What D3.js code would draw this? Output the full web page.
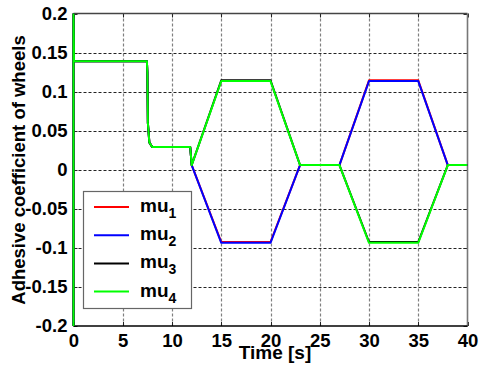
<!DOCTYPE html>
<html>
<head>
<meta charset="utf-8">
<script src="https://cdn.jsdelivr.net/npm/d3@7"></script>
<style>
  html, body { margin: 0; padding: 0; background: #fff; }
  svg { display: block; }
  text { font-family: "Liberation Sans", Arial, sans-serif; font-weight: bold; fill: #000; }
</style>
</head>
<body>
<svg id="chart" width="481" height="370"></svg>
<script>
// Simulation time samples (s)
const time = [0, 0, 0.05, 7.45, 7.5, 7.55, 7.7, 8.0, 11.85, 12.0, 15.0, 20.0, 23.0, 27.0, 30.0, 35.0, 38.0, 40.0];

// Adhesion coefficient of each wheel
const mu1 = [-0.2, 0.2, 0.139, 0.139, 0.125, 0.06, 0.035, 0.029, 0.029, 0.006, -0.0925, -0.0925, 0.006, 0.006, 0.1145, 0.1145, 0.006, 0.006];
const mu2 = [-0.2, 0.2, 0.139, 0.139, 0.125, 0.06, 0.035, 0.029, 0.029, 0.006, -0.0935, -0.0935, 0.006, 0.006, 0.1135, 0.1135, 0.006, 0.006];
const mu3 = [-0.2, 0.2, 0.139, 0.139, 0.125, 0.06, 0.035, 0.029, 0.029, 0.006, 0.1145, 0.1145, 0.006, 0.006, -0.0925, -0.0925, 0.006, 0.006];
const mu4 = [-0.2, 0.2, 0.139, 0.139, 0.125, 0.06, 0.035, 0.029, 0.029, 0.006, 0.1135, 0.1135, 0.006, 0.006, -0.0935, -0.0935, 0.006, 0.006];

const seriesNames = ["mu1", "mu2", "mu3", "mu4"];
const seriesColors = ["#ff0000", "#0000ff", "#000000", "#00ff00"];

const xTicks = [0, 5, 10, 15, 20, 25, 30, 35, 40];
const yTicks = [-0.2, -0.15, -0.1, -0.05, 0, 0.05, 0.1, 0.15, 0.2];
const yTickLabels = ["-0.2", "-0.15", "-0.1", "-0.05", "0", "0.05", "0.1", "0.15", "0.2"];

const series = [mu1, mu2, mu3, mu4];

const svg = d3.select("#chart");
const plotLeft = 73.5, plotRight = 467.5, plotTop = 13.5, plotBottom = 326;

const x = d3.scaleLinear().domain([0, 40]).range([plotLeft, plotRight]);
const y = d3.scaleLinear().domain([-0.2, 0.2]).range([plotBottom, plotTop]);

// grid lines
const grid = svg.append("g");
grid.selectAll("line.vg").data(xTicks.slice(1, -1)).join("line")
  .attr("x1", d => Math.round(x(d)) + 0.5).attr("x2", d => Math.round(x(d)) + 0.5)
  .attr("y1", plotTop).attr("y2", plotBottom)
  .attr("stroke", "#808080").attr("stroke-width", 1.2).attr("stroke-dasharray", "3,2");
grid.selectAll("line.hg").data(yTicks.slice(1, -1)).join("line")
  .attr("y1", d => Math.round(y(d)) + 0.5).attr("y2", d => Math.round(y(d)) + 0.5)
  .attr("x1", plotLeft).attr("x2", plotRight)
  .attr("stroke", "#222").attr("stroke-width", 1).attr("stroke-dasharray", "3,2");

// inner tick marks (all four sides)
const ticks = svg.append("g").attr("stroke", "#222").attr("stroke-width", 1);
xTicks.forEach(t => {
  const px = Math.round(x(t)) + 0.5;
  ticks.append("line").attr("x1", px).attr("x2", px).attr("y1", plotBottom).attr("y2", plotBottom - 4);
  ticks.append("line").attr("x1", px).attr("x2", px).attr("y1", plotTop).attr("y2", plotTop + 4);
});
yTicks.forEach(t => {
  const py = Math.round(y(t)) + 0.5;
  ticks.append("line").attr("y1", py).attr("y2", py).attr("x1", plotLeft).attr("x2", plotLeft + 4);
  ticks.append("line").attr("y1", py).attr("y2", py).attr("x1", plotRight).attr("x2", plotRight - 4);
});

// axes box
svg.append("line").attr("x1", plotLeft).attr("x2", plotRight).attr("y1", plotTop).attr("y2", plotTop)
  .attr("stroke", "#444").attr("stroke-width", 1.3);
svg.append("line").attr("x1", plotRight).attr("x2", plotRight).attr("y1", plotTop).attr("y2", plotBottom)
  .attr("stroke", "#777").attr("stroke-width", 1.6);
svg.append("line").attr("x1", plotLeft).attr("x2", plotRight).attr("y1", plotBottom).attr("y2", plotBottom)
  .attr("stroke", "#000").attr("stroke-width", 1.3);
svg.append("line").attr("x1", plotLeft).attr("x2", plotLeft).attr("y1", plotTop).attr("y2", plotBottom)
  .attr("stroke", "#000").attr("stroke-width", 1.3);

// data lines
svg.append("clipPath").attr("id", "plotclip").append("rect")
  .attr("x", plotLeft - 2).attr("y", plotTop).attr("width", plotRight - plotLeft + 2).attr("height", plotBottom - plotTop);
const line = d3.line().x(d => x(d[0])).y(d => y(d[1]));
const lines = svg.append("g").attr("clip-path", "url(#plotclip)");
series.forEach((vals, i) => {
  lines.append("path")
    .datum(time.map((t, k) => [t, vals[k]]))
    .attr("d", line)
    .attr("fill", "none")
    .attr("stroke", seriesColors[i])
    .attr("stroke-width", 2)
    .attr("stroke-linejoin", "round");
});

// axis tick labels
const axisAx = d3.axisBottom(x).tickValues(xTicks).tickSize(0).tickPadding(8).tickFormat(d3.format("d"));
const gx = svg.append("g").attr("transform", `translate(0,${plotBottom})`).call(axisAx);
gx.select(".domain").remove();
gx.selectAll("text").style("font-size", "18.5px").style("font-family", "Liberation Sans, Arial, sans-serif").style("font-weight", "bold").attr("fill", "#000");

const axisAy = d3.axisLeft(y).tickValues(yTicks).tickSize(0).tickPadding(6).tickFormat((d, i) => yTickLabels[i]);
const gy = svg.append("g").attr("transform", `translate(${plotLeft},0)`).call(axisAy);
gy.select(".domain").remove();
gy.selectAll("text").style("font-size", "18.5px").style("font-family", "Liberation Sans, Arial, sans-serif").style("font-weight", "bold").attr("fill", "#000");

// axis titles
svg.append("text").attr("x", 275).attr("y", 359).attr("text-anchor", "middle")
  .style("font-size", "19px").text("Time [s]");
svg.append("text").attr("transform", `translate(25,170) rotate(-90)`).attr("text-anchor", "middle")
  .style("font-size", "18.5px").text("Adhesive coefficient of wheels");

// legend
const lg = svg.append("g");
lg.append("rect").attr("x", 83.5).attr("y", 191.5).attr("width", 108).attr("height", 117)
  .attr("fill", "#fff").attr("stroke", "#666").attr("stroke-width", 1.2);
seriesNames.forEach((name, i) => {
  const ly = 207 + i * 28.2;
  lg.append("line").attr("x1", 94).attr("x2", 129).attr("y1", ly).attr("y2", ly)
    .attr("stroke", seriesColors[i]).attr("stroke-width", 2);
  const t = lg.append("text").attr("x", 140).attr("y", ly + 5).style("font-size", "19px");
  t.append("tspan").text(name.slice(0, 2));
  t.append("tspan").attr("dy", 6).style("font-size", "14px").text(name.slice(2));
});
</script>
</body>
</html>
